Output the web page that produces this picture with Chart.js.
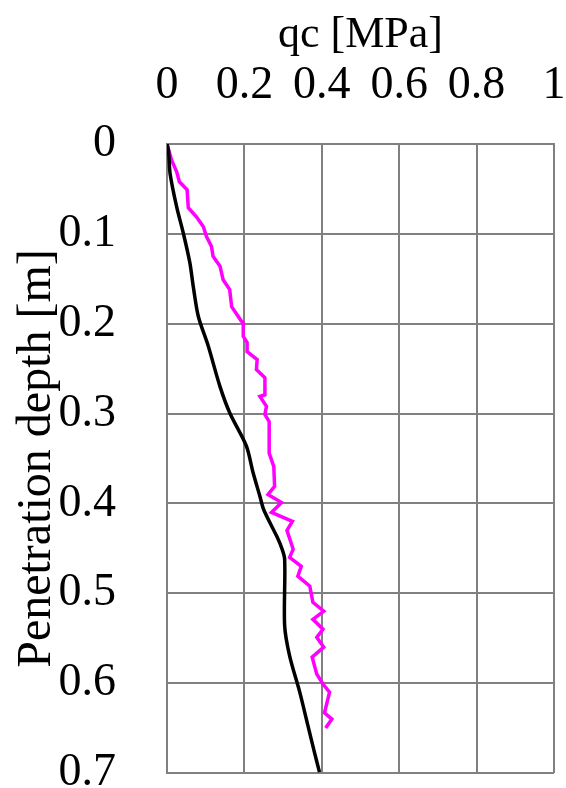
<!DOCTYPE html>
<html>
<head>
<meta charset="utf-8">
<script src="https://cdn.jsdelivr.net/npm/chart.js@4"></script>
<style>
    html, body { margin: 0; padding: 0; background: #fff; overflow: hidden; }
    #wrap { width: 566px; height: 788px; position: relative; }
</style>
</head>
<body>
<div id="wrap"><canvas id="cptChart"></canvas></div>
<script>
// series 1 (black)
const blackQc    = [0, 0.004, 0.008, 0.025, 0.042, 0.059, 0.068, 0.081, 0.106, 0.137, 0.162, 0.205, 0.222, 0.240, 0.250, 0.283, 0.295, 0.304, 0.304, 0.317, 0.343, 0.364, 0.381, 0.394];
const blackDepth = [0, 0.008, 0.033, 0.070, 0.099, 0.132, 0.159, 0.192, 0.224, 0.270, 0.299, 0.336, 0.365, 0.392, 0.407, 0.436, 0.448, 0.462, 0.536, 0.570, 0.610, 0.647, 0.677, 0.699];

// series 2 (magenta)
const magentaQc    = [0, 0.012, 0.025, 0.032, 0.052, 0.055, 0.076, 0.094, 0.102, 0.115, 0.119, 0.137, 0.145, 0.162, 0.167, 0.192, 0.197, 0.197, 0.207, 0.207, 0.233, 0.231, 0.253, 0.253, 0.240, 0.257, 0.253, 0.264, 0.264, 0.276, 0.278, 0.261, 0.296, 0.270, 0.324, 0.310, 0.326, 0.317, 0.347, 0.338, 0.369, 0.377, 0.405, 0.377, 0.403, 0.387, 0.405, 0.375, 0.387, 0.403, 0.420, 0.407, 0.426, 0.410];
const magentaDepth = [0, 0.018, 0.031, 0.042, 0.051, 0.071, 0.081, 0.092, 0.103, 0.114, 0.125, 0.136, 0.151, 0.162, 0.181, 0.197, 0.199, 0.214, 0.221, 0.231, 0.240, 0.251, 0.260, 0.279, 0.281, 0.292, 0.301, 0.309, 0.344, 0.359, 0.381, 0.390, 0.399, 0.410, 0.420, 0.430, 0.451, 0.460, 0.470, 0.481, 0.492, 0.510, 0.520, 0.529, 0.540, 0.549, 0.560, 0.571, 0.590, 0.601, 0.610, 0.633, 0.640, 0.650];

const qcTicks = [0, 0.2, 0.4, 0.6, 0.8, 1];
const depthTicks = [0, 0.1, 0.2, 0.3, 0.4, 0.5, 0.6, 0.7];

const toPoints = (xs, ys) => xs.map((x, i) => ({ x: x, y: ys[i] }));
const fmt = v => String(parseFloat(Number(v).toFixed(2)));

const serif = '"Liberation Serif", "Times New Roman", serif';
const gridColor = '#808080';

const ctx = document.getElementById('cptChart').getContext('2d');
new Chart(ctx, {
    type: 'scatter',
    data: {
        datasets: [
            { data: toPoints(blackQc, blackDepth), showLine: true, borderColor: '#000000', borderWidth: 3.5, pointRadius: 0, tension: 0.3 },
            { data: toPoints(magentaQc, magentaDepth), showLine: true, borderColor: '#ff00ff', borderWidth: 3.5, pointRadius: 0, tension: 0 }
        ]
    },
    options: {
        responsive: true,
        maintainAspectRatio: false,
        animation: false,
        layout: { padding: { top: 0, left: 0, right: 12, bottom: 15 } },
        plugins: { legend: { display: false }, tooltip: { enabled: false } },
        scales: {
            x: {
                type: 'linear',
                position: 'top',
                min: 0, max: 1,
                afterBuildTicks: s => { s.ticks = qcTicks.map(v => ({ value: v })); },
                afterFit: s => { s.height = 144; s.paddingRight = 0; s.paddingLeft = 0; },
                ticks: { color: '#000', padding: 30, font: { family: serif, size: 46 }, callback: fmt },
                grid: { color: gridColor, lineWidth: 2, drawTicks: false },
                border: { color: gridColor, width: 2 },
                title: { display: true, text: 'qc [MPa]', color: '#000', font: { family: serif, size: 44 }, padding: { top: 9, bottom: 0 } }
            },
            y: {
                type: 'linear',
                reverse: true,
                min: 0, max: 0.7,
                afterBuildTicks: s => { s.ticks = depthTicks.map(v => ({ value: v })); },
                afterFit: s => { s.width = 167; s.paddingBottom = 0; s.paddingTop = 0; },
                ticks: { color: '#000', padding: 51, font: { family: serif, size: 46 }, callback: fmt },
                grid: { color: gridColor, lineWidth: 2, drawTicks: false },
                border: { color: gridColor, width: 2 },
                title: { display: true, text: 'Penetration depth [m]', color: '#000', font: { family: serif, size: 48 }, padding: { top: 9, bottom: 0 } }
            }
        }
    }
});
</script>
</body>
</html>
